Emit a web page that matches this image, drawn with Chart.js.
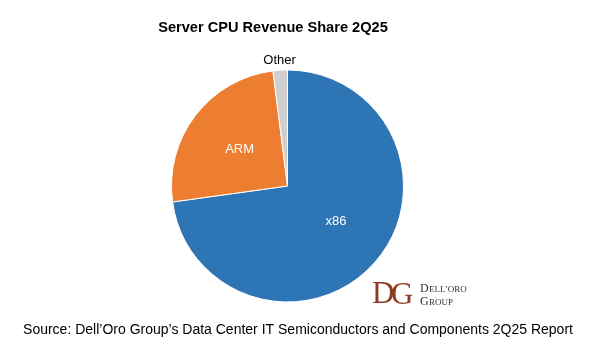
<!DOCTYPE html>
<html>
<head>
<meta charset="utf-8">
<script src="https://cdn.jsdelivr.net/npm/chart.js@4"></script>
<style>
  html, body { margin: 0; padding: 0; background: #fff; }
  #wrap { width: 600px; height: 361px; position: relative; }
</style>
</head>
<body>
<div id="wrap"><canvas id="myChart" width="600" height="361"></canvas></div>
<script>
'use strict'
const categories = ['x86', 'ARM', 'Other']
const shares = [72.8, 25.2, 2.0]
const colors = ['#2E75B6', '#ED7D31', '#D0CECE']
const labelColors = ['#ffffff', '#ffffff', '#000000']
const titleText = 'Server CPU Revenue Share 2Q25'
const sourceText = 'Source: Dell\u2019Oro Group\u2019s Data Center IT Semiconductors and Components 2Q25 Report'

const textPlugin = {
    id: 'texts',
    afterDraw(chart) {
        const c = chart.ctx
        const meta = chart.getDatasetMeta(0)
        c.save()
        c.textBaseline = 'middle'
        c.textAlign = 'center'

        // title
        c.fillStyle = '#000'
        c.font = 'bold 14.6px "Liberation Sans", Arial, sans-serif'
        c.fillText(titleText, 273, 28)

        // slice labels
        c.font = '13px "Liberation Sans", Arial, sans-serif'
        meta.data.forEach((arc, i) => {
            const mid = (arc.startAngle + arc.endAngle) / 2
            let r = arc.outerRadius * 0.52
            if (i === 2) r = arc.outerRadius + 10
            let x = arc.x + Math.cos(mid) * r
            let y = arc.y + Math.sin(mid) * r
            if (i === 0) { x += 3; y -= 4 }
            c.fillStyle = labelColors[i]
            c.fillText(categories[i], x, y)
        })

        // source line
        c.fillStyle = '#000'
        c.font = '14px "Liberation Sans", Arial, sans-serif'
        c.fillText(sourceText, 298, 330)

        // logo
        c.fillStyle = '#8E3B22'
        c.font = '31px "Liberation Serif", "DejaVu Serif", serif'
        c.textAlign = 'left'
        c.fillText('D', 372, 295)
        c.fillText('G', 391, 296)
        c.fillStyle = '#333'
        c.font = '12px "Liberation Serif", serif'
        c.fillText('D', 420, 289)
        c.font = '9px "Liberation Serif", serif'
        c.fillText('ELL\u2019ORO', 429, 289.5)
        c.font = '12px "Liberation Serif", serif'
        c.fillText('G', 420, 302)
        c.font = '9px "Liberation Serif", serif'
        c.fillText('ROUP', 429, 302.5)
        c.restore()
    }
}

const ctx = document.getElementById('myChart')

new Chart(ctx, {
    type: 'pie',
    data: {
        labels: categories,
        datasets: [{
            data: shares,
            backgroundColor: colors,
            borderColor: '#ffffff',
            borderWidth: 1,
            hoverOffset: 0
        }]
    },
    options: {
        responsive: false,
        animation: false,
        layout: {
            padding: { left: 171, right: 196, top: 69, bottom: 58 }
        },
        plugins: {
            legend: { display: false },
            tooltip: { enabled: false },
            title: { display: false }
        }
    },
    plugins: [textPlugin]
})
</script>
</body>
</html>
